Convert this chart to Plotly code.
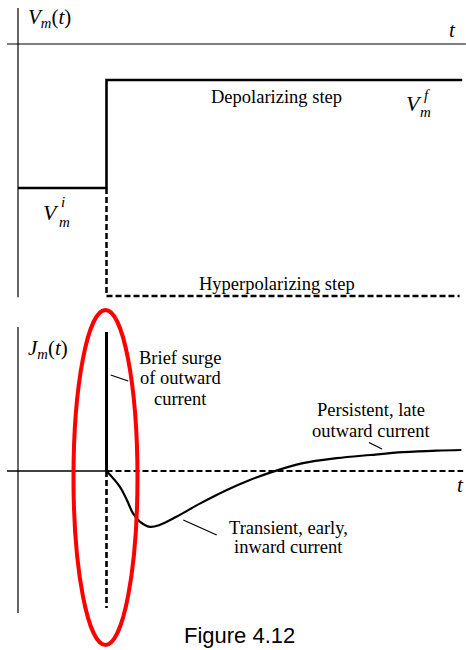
import plotly.graph_objects as go

# ---- time base (ms) and step protocol ----
t_axis_start = -0.124
t_axis_end = 5.062
t_step = 1.0
t_depol_end = 5.02
t_hyper_end = 4.99

# membrane potential levels (mV)
v_axis_top = 15.0
v_axis_bottom = -105.5
v_initial = -60.0
v_depol = -15.0
v_hyper = -105.0

# membrane current (arbitrary units)
j_axis_top = 7.2
j_axis_bottom = -7.1
j_spike = 6.95
j_dashed_bottom = -6.85
t_current = [1.0, 1.15, 1.23, 1.30, 1.38, 1.49, 1.60, 1.79, 2.06, 2.36,
             2.62, 2.85, 3.22, 3.60, 3.98, 4.35, 4.73, 5.01]
j_current = [0.0, -0.78, -1.45, -2.12, -2.54, -2.79, -2.70, -2.29, -1.62, -0.95,
             -0.45, -0.08, 0.39, 0.64, 0.80, 0.94, 1.02, 1.05]

T_RANGE = [-0.2034, 5.0621]
V_RANGE = [-106.67, 18.33]
J_RANGE = [-8.95, 8.55]

SERIF = "Liberation Serif, Times New Roman, serif"
DASH = "6px,3px"
BLACK = "black"

fig = go.Figure()


def seg(xs, ys, axes, width, dash="solid", shape="linear"):
    xa, ya = axes
    fig.add_trace(go.Scatter(
        x=xs, y=ys, mode="lines", xaxis=xa, yaxis=ya,
        line=dict(color=BLACK, width=width, dash=dash, shape=shape),
        hoverinfo="skip", showlegend=False))


TOP = ("x", "y")
BOT = ("x2", "y2")

# ---- voltage panel ----
seg([t_axis_start, t_axis_end], [0, 0], TOP, 1.2)
seg([0, 0], [v_axis_top, v_axis_bottom], TOP, 1.2)
seg([0, t_step, t_step, t_depol_end], [v_initial, v_initial, v_depol, v_depol], TOP, 2.6)
seg([t_step, t_step, t_hyper_end], [v_initial, v_hyper, v_hyper], TOP, 2.5, dash=DASH)

# ---- current panel ----
seg([t_axis_start, t_step], [0, 0], BOT, 1.6)
seg([t_step, 5.03], [0, 0], BOT, 2.0, dash=DASH)
seg([0, 0], [j_axis_top, j_axis_bottom], BOT, 1.2)
seg([t_step, t_step], [0, j_dashed_bottom], BOT, 2.6, dash=DASH)
seg([t_step, t_step], [0, j_spike], BOT, 3.0)
seg(t_current, j_current, BOT, 2.2, shape="spline")

ann = []


def label(text, x, y, axes, size=18.5, xanchor="center", italic=False):
    xa, ya = axes
    ann.append(dict(
        text=f"<i>{text}</i>" if italic else text, x=x, y=y, xref=xa, yref=ya,
        xanchor=xanchor, yanchor="middle", showarrow=False,
        font=dict(family=SERIF, size=size, color=BLACK)))


# axis and level labels
label("<i>V</i><sub><i>m</i></sub>(<i>t</i>)", 0.09, 10.8, TOP, size=21, xanchor="left")
label("t", 4.91, 5.8, TOP, size=21, italic=True)
label("Depolarizing step", 2.921, -22.1, TOP)
label("Hyperpolarizing step", 2.927, -100.0, TOP)
label("V", 4.475, -24.6, TOP, size=22, italic=True)
label("f", 4.62, -21.3, TOP, size=15, italic=True)
label("m", 4.60, -28.3, TOP, size=15, italic=True)
label("V", 0.373, -70.4, TOP, size=22, italic=True)
label("i", 0.51, -66.0, TOP, size=15, italic=True)
label("m", 0.52, -74.2, TOP, size=15, italic=True)

label("<i>J</i><sub><i>m</i></sub>(<i>t</i>)", 0.09, 6.1, BOT, size=21, xanchor="left")
label("t", 5.0, -0.7, BOT, size=21, italic=True)
for txt, yy in zip(["Brief surge", "of outward", "current"], [5.65, 4.65, 3.6]):
    label(txt, 1.836, yy, BOT)
for txt, yy in zip(["Persistent, late", "outward current"], [3.05, 2.0]):
    label(txt, 3.994, yy, BOT)
for txt, yy in zip(["Transient, early,", "inward current"], [-2.835, -3.8]):
    label(txt, 3.062, yy, BOT)

ann.append(dict(text="Figure 4.12", x=0.515, y=0.0, xref="paper", yref="paper",
                xanchor="center", yanchor="bottom", showarrow=False,
                font=dict(family="Liberation Sans, Arial, sans-serif", size=22, color=BLACK)))

# pointer strokes and highlight ring
shapes = [
    dict(type="line", xref="x2", yref="y2", x0=1.047, y0=4.8, x1=1.246, y1=4.5,
         line=dict(color=BLACK, width=1.2)),
    dict(type="line", xref="x2", yref="y2", x0=3.966, y0=1.425, x1=4.113, y1=1.1,
         line=dict(color=BLACK, width=1.2)),
    dict(type="line", xref="x2", yref="y2", x0=1.868, y0=-2.45, x1=2.245, y1=-3.2,
         line=dict(color=BLACK, width=1.2)),
    dict(type="circle", xref="x2", yref="y2", x0=0.627, y0=-8.7, x1=1.350, y1=8.05,
         line=dict(color="#ff0000", width=4)),
]

hidden = dict(visible=False, showgrid=False, zeroline=False)
top_dom = [1 - 300 / 650, 1.0]
bot_dom = [0.0, 1 - 300 / 650]

fig.update_layout(
    width=466, height=650,
    margin=dict(l=0, r=0, t=0, b=0),
    paper_bgcolor="white", plot_bgcolor="white",
    xaxis=dict(range=T_RANGE, domain=[0, 1], anchor="y", **hidden),
    yaxis=dict(range=V_RANGE, domain=top_dom, anchor="x", **hidden),
    xaxis2=dict(range=T_RANGE, domain=[0, 1], anchor="y2", **hidden),
    yaxis2=dict(range=J_RANGE, domain=bot_dom, anchor="x2", **hidden),
    annotations=ann,
    shapes=shapes,
    showlegend=False,
)

fig.write_html("out.html", config={"displayModeBar": False})
